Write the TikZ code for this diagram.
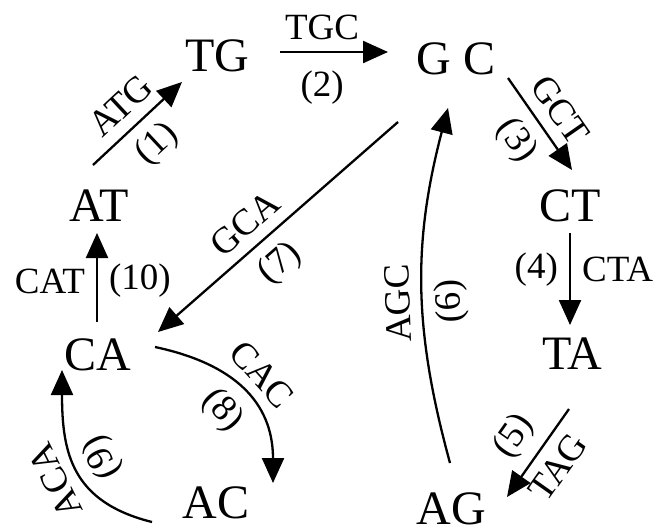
\documentclass[tikz,border=0pt]{standalone}
\usepackage{fontspec}
\setmainfont{Liberation Serif}
\usetikzlibrary{arrows.meta,calc}
\begin{document}
\begin{tikzpicture}[x=0.5pt,y=-0.5pt,
  st/.style={inner sep=0pt, font=\fontsize{24}{28}\selectfont},
  lab/.style={inner sep=5.5pt, font=\fontsize{18.5}{22}\selectfont},
  edge/.style={line width=1.15pt, -{Triangle[length=12.5pt,width=11pt]}}]
\useasboundingbox (0,0) rectangle (657,531);
% nodes
\node[st] (TG) at (217.5,55.5) {TG};
\node[st] (GC) at (456,58.5) {G C};
\node[st] (CT) at (570.5,205.5) {CT};
\node[st] (TA) at (572.5,353.5) {TA};
\node[st] (AG) at (451,509) {AG};
\node[st] (AC) at (216,502.5) {AC};
\node[st] (CA) at (97.5,354.5) {CA};
\node[st] (AT) at (99,205.5) {AT};
% edges
\draw[edge] ($(AT)+(-6,-40.5)$) -- node[lab,sloped,above]{ATG} node[lab,sloped,below]{(1)} ($(TG)+(-35.5,26.5)$);
\draw[edge] ($(TG)+(62.5,-3.5)$) -- node[lab,above,pos=0.39]{TGC} node[lab,below,pos=0.39,inner sep=9pt]{(2)} ($(GC)+(-68,-6.5)$);
\draw[edge] ($(GC)+(52,19.5)$) -- node[lab,sloped,above]{GCT} node[lab,sloped,below]{(3)} ($(CT)+(1.5,-35.5)$);
\draw[edge] ($(CT)+(-0.5,27.5)$) -- node[lab,left,pos=0.4]{(4)} node[lab,right,pos=0.4]{CTA} ($(TA)+(-2.5,-28.5)$);
\draw[edge] ($(TA)+(-3.5,55.5)$) -- node[lab,sloped,above]{(5)} node[lab,sloped,below]{TAG} ($(AG)+(56,-12)$);
\draw[edge] ($(AG)+(-1,-46)$) to[bend left=15] node[lab,sloped,allow upside down,above,pos=0.45]{AGC} node[lab,sloped,allow upside down,below,pos=0.45]{(6)} ($(GC)+(-8,49.5)$);
\draw[edge] ($(GC)+(-58,63.5)$) -- node[lab,sloped,above,pos=0.57]{GCA} node[lab,sloped,below,pos=0.57]{(7)} ($(CA)+(60.5,-22.5)$);
\draw[edge] ($(CA)+(57.5,-7.5)$) to[out=-12,in=90,looseness=1.15] node[lab,sloped,above]{CAC} node[lab,sloped,below]{(8)} ($(AC)+(57,-19.5)$);
\draw[edge] ($(AC)+(-64,19.5)$) to[out=166,in=-90,looseness=1.2] node[lab,sloped,allow upside down,above]{ACA} node[lab,sloped,allow upside down,below]{(9)} ($(CA)+(-35.5,15.5)$);
\draw[edge] ($(CA)+(-0.5,-32.5)$) -- node[lab,left,pos=0.46]{CAT} node[lab,right,pos=0.46]{(10)} ($(AT)+(-2,27.5)$);
\end{tikzpicture}
\end{document}
